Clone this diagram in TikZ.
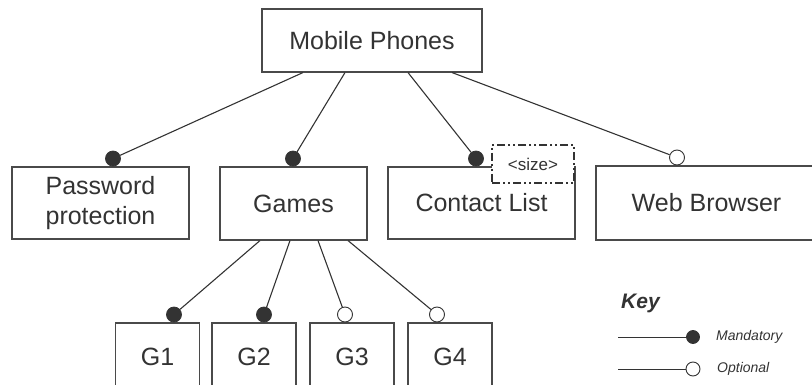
\documentclass[tikz,border=0pt]{standalone}
\usepackage{fontspec}
\setmainfont{Liberation Sans}
\definecolor{inkgray}{HTML}{333333}
\definecolor{framegray}{HTML}{4A4A4A}
\begin{document}
\begin{tikzpicture}[x=1pt,y=-1pt,
  feature/.style={draw=framegray, line width=1.1pt, fill=white, rectangle, inner sep=0pt,
    text=inkgray, font=\fontsize{25}{30}\selectfont, align=center},
  conn/.style={draw=inkgray, line width=1.1pt},
  mand/.style={circle, fill=inkgray, draw=inkgray, line width=0.8pt, minimum size=15pt, inner sep=0pt},
  opt/.style={circle, fill=white, draw=inkgray, line width=0.9pt, minimum size=15pt, inner sep=0pt},
  attr/.style={draw=inkgray, line width=1.9pt, fill=white, inner sep=0pt, text=inkgray,
    font=\fontsize{17}{20}\selectfont,
    dash pattern=on 8pt off 3pt on 2pt off 3pt on 2pt off 3pt},
  keytext/.style={anchor=west, text=inkgray, inner sep=0pt, font=\fontsize{14}{16}\selectfont\itshape}
]
\useasboundingbox (0,0) rectangle (812,385);
\clip (0,0) rectangle (812,385);

% root feature
\node[feature, minimum width=220pt, minimum height=63pt] (mp) at (372,40.5) {Mobile Phones};

% second level features
\node[feature, minimum width=177pt, minimum height=72pt] (pw) at (100.5,203) {Password\\protection};
\node[feature, minimum width=147pt, minimum height=73pt] (games) at (293.5,203.5) {Games};
\node[feature, minimum width=187pt, minimum height=72pt] (contact) at (481.5,203) {Contact List};
\node[feature, minimum width=221pt, minimum height=74pt] (web) at (706.5,203) {Web Browser};

% attribute of the contact list
\node[attr, minimum width=82pt, minimum height=38pt] (size) at (533,164) {<size>};

% games sub-features
\node[feature, minimum width=84pt, minimum height=68pt] (g1) at (157.5,357) {G1};
\node[feature, minimum width=84pt, minimum height=68pt] (g2) at (254,357) {G2};
\node[feature, minimum width=84pt, minimum height=68pt] (g3) at (352,357) {G3};
\node[feature, minimum width=84pt, minimum height=68pt] (g4) at (450,357) {G4};

% mandatory / optional markers
\node[mand, anchor=south] (d-pw) at ([xshift=12.5pt]pw.north) {};
\node[mand, anchor=south] (d-games) at ([xshift=-0.5pt]games.north) {};
\node[mand, anchor=south] (d-contact) at ([xshift=-5.5pt]contact.north) {};
\node[opt, anchor=south] (d-web) at ([xshift=-29.5pt]web.north) {};
\node[mand, anchor=south] (d-g1) at ([xshift=16.5pt]g1.north) {};
\node[mand, anchor=south] (d-g2) at ([xshift=10pt]g2.north) {};
\node[opt, anchor=south] (d-g3) at ([xshift=-7pt]g3.north) {};
\node[opt, anchor=south] (d-g4) at ([xshift=-13pt]g4.north) {};

% connectors
\draw[conn] ([xshift=-69pt]mp.south) -- (d-pw);
\draw[conn] ([xshift=-27pt]mp.south) -- (d-games);
\draw[conn] ([xshift=36pt]mp.south) -- (d-contact);
\draw[conn] ([xshift=80pt]mp.south) -- (d-web);
\draw[conn] ([xshift=-33.5pt]games.south) -- (d-g1);
\draw[conn] ([xshift=-3.5pt]games.south) -- (d-g2);
\draw[conn] ([xshift=24.5pt]games.south) -- (d-g3);
\draw[conn] ([xshift=54.5pt]games.south) -- (d-g4);

% key
\node[anchor=west, inner sep=0pt, text=inkgray, font=\fontsize{21}{24}\selectfont\bfseries\itshape] (key) at (621,303) {Key};
\coordinate (km0) at (618,337);
\node[mand, minimum size=13pt] (km) at (693,337) {};
\draw[conn, line width=0.9pt] (km0) -- (km);
\node[keytext] (kmt) at (716,337) {Mandatory};
\coordinate (ko0) at (618,369);
\node[opt, minimum size=14pt] (ko) at (693,369) {};
\draw[conn, line width=0.9pt] (ko0) -- (ko);
\node[keytext] (kot) at (717,369) {Optional};
\end{tikzpicture}
\end{document}
